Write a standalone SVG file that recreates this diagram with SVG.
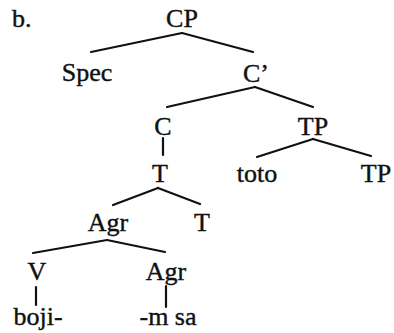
<svg xmlns="http://www.w3.org/2000/svg" width="394" height="333" viewBox="0 0 394 333">
<style>
text{font-family:"Liberation Serif","Times New Roman",serif;font-size:26px;fill:#111;stroke:#111;stroke-width:0.4;text-anchor:middle}
.e line{stroke:#111;stroke-width:2.2;stroke-linecap:round}
</style>
<rect width="394" height="333" fill="#fff"/>
<g class="e" id="connectors">
<line x1="182" y1="33" x2="91" y2="52"/>
<line x1="182" y1="33" x2="253" y2="52"/>
<line x1="255" y1="87" x2="167" y2="107"/>
<line x1="255" y1="87" x2="313" y2="107"/>
<line x1="163" y1="138" x2="163" y2="155"/>
<line x1="313" y1="139" x2="257" y2="157"/>
<line x1="313" y1="139" x2="371" y2="156"/>
<line x1="158" y1="188" x2="113" y2="205"/>
<line x1="158" y1="188" x2="200" y2="204"/>
<line x1="107" y1="240" x2="33" y2="253"/>
<line x1="107" y1="240" x2="165" y2="252"/>
<line x1="36" y1="287" x2="36" y2="305"/>
<line x1="166" y1="286" x2="166" y2="307"/>
</g>
<g id="label-b"><text x="12" y="27" style="text-anchor:start">b.</text></g>
<g id="CP"><text x="182" y="27">CP</text></g>
<g id="Spec"><text x="87" y="81">Spec</text></g>
<g id="Cbar"><text x="256" y="82">C’</text></g>
<g id="C"><text x="163" y="135">C</text></g>
<g id="TP1"><text x="313" y="135">TP</text></g>
<g id="T1"><text x="160" y="182">T</text></g>
<g id="toto"><text x="257" y="182">toto</text></g>
<g id="TP2"><text x="376" y="182">TP</text></g>
<g id="Agr1"><text x="108" y="231">Agr</text></g>
<g id="T2"><text x="202" y="231">T</text></g>
<g id="V"><text x="37" y="280">V</text></g>
<g id="Agr2"><text x="166" y="280">Agr</text></g>
<g id="boji"><text x="38" y="325">boji-</text></g>
<g id="msa"><text x="168" y="325">-m sa</text></g>
</svg>
